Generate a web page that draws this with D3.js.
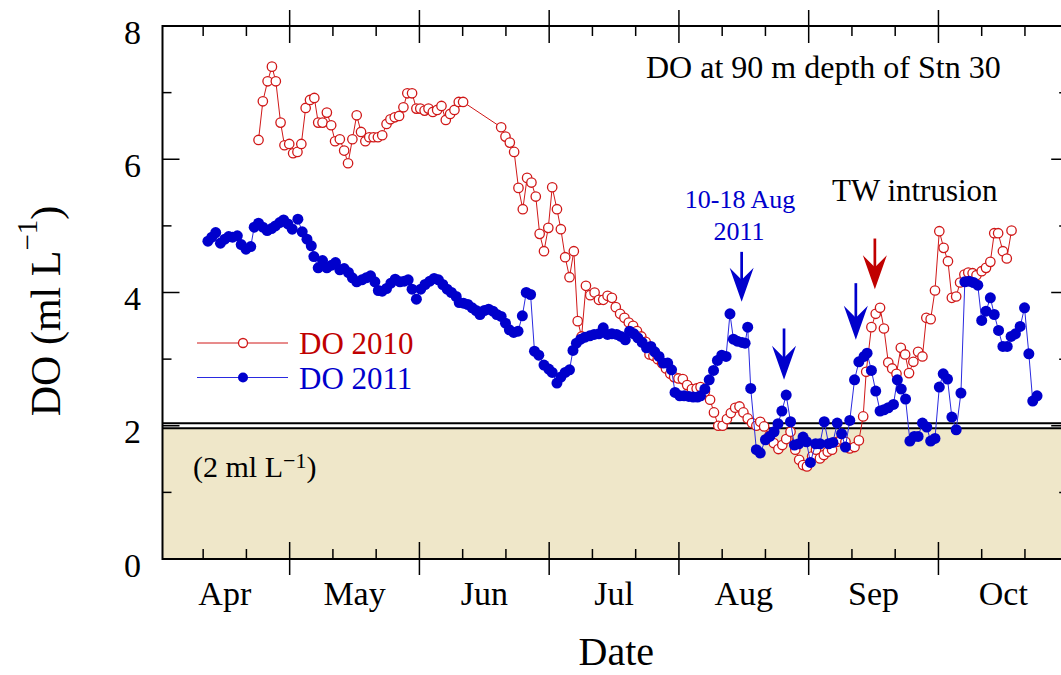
<!DOCTYPE html>
<html><head><meta charset="utf-8">
<script src="https://cdn.jsdelivr.net/npm/d3@7"></script>
<style>
body{margin:0;background:#fff}
svg{display:block}
text{font-family:"Liberation Serif","Times New Roman",serif}
</style>
</head><body>
<svg id="chart" width="1061" height="675"></svg>
<script>
// ---- data (day of year, DO in ml/L) ----
const days2010 = [113.8,114.8,115.9,116.9,117.8,118.9,119.8,120.9,121.8,122.8,123.7,124.7,125.7,126.7,127.6,128.6,129.6,130.6,131.5,132.6,133.6,134.5,135.5,136.5,137.5,138.5,139.4,140.4,141.4,142.4,143.4,144.3,145.3,146.3,147.3,148.2,149.3,150.3,151.2,152.2,153.1,154.1,155.1,156.1,157.1,158.1,159.1,160.1,161.1,
169.9,170.9,171.9,172.9,173.9,174.9,175.9,176.9,177.9,178.8,179.8,180.8,181.7,182.8,183.7,184.7,185.7,186.7,187.6,188.5,189.5,190.5,191.5,192.5,193.5,194.5,195.5,196.4,197.4,198.4,199.4,200.4,201.3,202.3,203.3,204.2,205.1,206.1,207.1,208.0,209.0,209.9,210.9,211.9,212.9,214.0,215.1,216.0,217.0,218.2,219.1,220.1,221.1,222.1,223.0,224.0,225.0,225.9,226.9,227.9,228.9,229.8,230.7,231.9,232.9,234.0,234.9,235.8,236.8,237.9,238.8,239.7,240.6,241.8,242.7,243.6,244.5,245.4,246.4,247.6,248.5,249.5,250.5,251.6,252.6,253.6,254.3,255.5,256.5,257.5,258.4,259.4,260.3,261.3,262.3,263.3,264.2,265.2,266.3,267.3,268.2,269.2,270.2,271.2,272.2,273.2,274.1,275.1,276.0,277.0,277.9,278.9,279.8,281.0,282.0,283.0,283.9,284.8,285.9,286.8,287.9];
const do2010 = [6.29,6.87,7.17,7.39,7.17,6.55,6.21,6.23,6.09,6.11,6.23,6.77,6.89,6.92,6.55,6.55,6.70,6.51,6.27,6.30,6.13,5.94,6.30,6.66,6.41,6.27,6.33,6.33,6.33,6.36,6.53,6.60,6.63,6.65,6.78,6.99,6.99,6.76,6.76,6.73,6.76,6.71,6.74,6.80,6.59,6.68,6.74,6.86,6.86,
6.48,6.34,6.25,6.11,5.57,5.25,5.72,5.65,5.44,4.88,4.62,4.97,5.58,5.25,4.95,4.53,4.23,4.62,3.57,3.34,4.10,3.96,4.00,3.89,3.89,3.95,3.92,3.78,3.68,3.62,3.55,3.50,3.42,3.34,3.26,3.07,3.05,3.00,2.94,2.86,2.78,2.73,2.71,2.70,2.61,2.55,2.56,2.58,2.51,2.39,2.20,2.00,2.00,2.10,2.19,2.27,2.29,2.20,2.11,2.04,2.00,2.06,1.99,1.85,1.74,1.65,1.71,1.80,1.91,1.64,1.49,1.41,1.39,1.54,1.64,1.51,1.56,1.61,1.64,1.76,1.79,1.76,1.66,1.68,1.78,2.14,2.81,3.48,3.68,3.77,3.46,2.95,2.86,2.78,3.17,3.07,2.79,2.96,3.11,3.04,3.62,3.60,4.03,4.92,4.67,4.47,3.92,3.94,4.15,4.27,4.30,4.29,4.26,4.32,4.37,4.46,4.89,4.89,4.62,4.51,4.93];

const days2011 = [102.1,103.0,103.9,105.0,106.0,106.9,107.8,108.9,109.8,110.9,112.0,112.8,113.8,114.8,115.8,116.8,117.7,118.7,119.6,120.6,121.6,122.9,123.9,125.0,126.0,126.6,127.6,128.6,129.6,130.7,131.6,132.6,133.6,134.6,135.5,136.5,137.7,138.7,139.7,140.7,141.5,142.4,143.4,144.4,145.4,146.5,147.5,148.4,149.3,150.3,151.3,152.3,153.4,154.4,155.4,156.4,157.4,158.4,159.5,160.2,161.2,162.2,163.2,164.1,165.0,166.0,167.0,168.0,168.9,169.9,170.9,171.8,172.8,173.8,174.8,175.7,176.7,177.6,178.6,179.8,180.9,181.7,182.8,183.7,184.7,185.7,186.5,187.3,188.3,189.3,190.4,191.4,192.5,193.5,194.5,195.5,196.6,197.6,198.6,199.6,200.6,201.5,202.5,203.5,204.5,205.4,206.4,207.4,208.4,209.3,210.1,211.2,212.2,213.3,214.3,215.3,216.0,217.0,218.0,219.0,219.9,220.9,221.9,222.8,223.6,224.5,225.6,226.3,226.9,227.6,228.9,229.8,231.0,232.0,233.0,233.9,234.8,235.8,236.8,237.7,238.7,239.7,240.5,241.4,242.6,243.6,244.6,245.6,246.6,247.6,248.6,249.5,250.5,251.6,252.6,253.8,254.5,255.5,256.5,257.5,258.4,259.4,260.6,261.5,262.4,263.4,264.4,265.4,266.3,267.3,268.3,269.2,270.2,271.2,272.1,273.1,274.1,275.1,276.2,277.1,278.1,279.1,280.1,281.0,282.0,283.0,283.9,284.9,285.9,286.9,287.8,288.8,289.9,290.9,291.9,292.8,293.8];
const do2011 = [4.77,4.83,4.90,4.74,4.80,4.84,4.83,4.85,4.72,4.65,4.69,4.98,5.04,4.98,4.93,4.96,5.00,5.05,5.09,5.03,4.95,5.10,4.91,4.80,4.70,4.54,4.37,4.48,4.37,4.41,4.45,4.34,4.36,4.30,4.22,4.16,4.19,4.22,4.25,4.16,4.03,4.02,4.06,4.14,4.20,4.16,4.17,4.19,4.05,3.90,4.05,4.12,4.17,4.21,4.19,4.12,4.05,4.00,3.94,3.85,3.84,3.82,3.77,3.73,3.67,3.73,3.75,3.72,3.67,3.64,3.54,3.44,3.40,3.42,3.65,4.00,3.97,3.12,3.06,2.91,2.85,2.80,2.64,2.73,2.80,2.84,3.13,3.24,3.30,3.33,3.35,3.37,3.38,3.47,3.37,3.38,3.37,3.34,3.29,3.42,3.38,3.32,3.25,3.17,3.19,3.11,3.04,2.94,2.94,2.84,2.50,2.45,2.45,2.44,2.43,2.43,2.45,2.55,2.69,2.83,2.98,3.06,3.04,3.68,3.30,3.27,3.25,3.24,3.48,2.56,1.64,1.59,1.79,1.84,1.91,2.03,2.22,2.46,2.06,1.71,1.73,1.83,1.76,1.45,1.73,1.73,2.06,1.73,1.75,2.04,1.88,1.68,2.08,2.69,2.96,3.04,3.09,2.83,2.52,2.22,2.24,2.27,2.32,2.69,2.55,2.40,1.77,1.84,1.84,2.04,1.98,1.77,1.81,2.58,2.78,2.70,2.13,1.94,2.49,4.16,4.17,4.15,4.11,3.58,3.72,3.92,3.67,3.43,3.19,3.19,3.34,3.38,3.49,3.77,3.08,2.37,2.45];

const monthLabels = ["Apr","May","Jun","Jul","Aug","Sep","Oct"];
const monthLabelDays = [106,136,166,196,226,256,286];
const majorTickDays = [121,151,181,211,241,271];
const minorTickDays = [101,111,131,141,161,171,191,201,221,231,251,261,281,291];
const yMajorTicks = [0,2,4,6,8];
const yMinorTicks = [1,3,5,7];
const threshold = 2;
// annotation arrows: day, top value, tip value
const blueArrowDays = [225.5,235.3,251.9];
const blueArrowTop  = [4.61,3.46,4.14];
const blueArrowTip  = [3.86,2.69,3.29];
const redArrowDay = 256.3, redArrowTop = 4.81, redArrowTip = 4.05;

const RED = "#d01818", BLUE = "#0000cc", BLUE_LINE = "#2a2ae0";
const svg = d3.select("#chart");
const x = d3.scaleLinear().domain([91.6, 301]).range([162.5, 1068.2]);
const y = d3.scaleLinear().domain([0, 8]).range([559, 26]);
const X0 = x(91.6), X1 = x(301), Y0 = y(0), Y1 = y(8);

// shaded hypoxia zone
svg.append("rect").attr("x", X0).attr("y", y(threshold) + 2.5)
  .attr("width", X1 - X0).attr("height", Y0 - y(threshold) - 2.5).attr("fill", "#efe7c9");
[-2.5, 2.5].forEach(o => svg.append("line").attr("x1", X0).attr("x2", X1)
  .attr("y1", y(threshold) + o).attr("y2", y(threshold) + o).attr("stroke", "#000").attr("stroke-width", 2));

// frame
svg.append("rect").attr("x", X0).attr("y", Y1).attr("width", X1 - X0).attr("height", Y0 - Y1)
  .attr("fill", "none").attr("stroke", "#000").attr("stroke-width", 2);

const tk = svg.append("g").attr("stroke", "#000").attr("stroke-width", 1.5);
majorTickDays.forEach(d => {
  tk.append("line").attr("x1", x(d)).attr("x2", x(d)).attr("y1", Y1 - 16).attr("y2", Y1 + 17);
  tk.append("line").attr("x1", x(d)).attr("x2", x(d)).attr("y1", Y0 - 17).attr("y2", Y0 + 16);
});
minorTickDays.forEach(d => {
  tk.append("line").attr("x1", x(d)).attr("x2", x(d)).attr("y1", Y1).attr("y2", Y1 + 10);
  tk.append("line").attr("x1", x(d)).attr("x2", x(d)).attr("y1", Y0 - 10).attr("y2", Y0);
});
yMajorTicks.forEach(v => {
  tk.append("line").attr("x1", X0).attr("x2", X0 + 17).attr("y1", y(v)).attr("y2", y(v));
  tk.append("line").attr("x1", X1 - 17).attr("x2", X1).attr("y1", y(v)).attr("y2", y(v));
});
yMinorTicks.forEach(v => {
  tk.append("line").attr("x1", X0).attr("x2", X0 + 9).attr("y1", y(v)).attr("y2", y(v));
  tk.append("line").attr("x1", X1 - 9).attr("x2", X1).attr("y1", y(v)).attr("y2", y(v));
});

// tick labels
yMajorTicks.forEach(v => svg.append("text").attr("x", 141).attr("y", y(v) + 17.5)
  .attr("text-anchor", "end").attr("font-size", 34).text(v));
monthLabels.forEach((m, i) => svg.append("text").attr("x", x(monthLabelDays[i])).attr("y", 605)
  .attr("text-anchor", "middle").attr("font-size", 34).text(m));
svg.append("text").attr("x", (X0 + X1) / 2 + 1).attr("y", 665).attr("text-anchor", "middle")
  .attr("font-size", 40).text("Date");

// y title
const yt = svg.append("text").attr("transform", "translate(60,311) rotate(-90)")
  .attr("text-anchor", "middle").attr("font-size", 42);
yt.append("tspan").text("DO (ml L");
yt.append("tspan").attr("font-size", 29).attr("dy", -23).text("\u22121");
yt.append("tspan").attr("dy", 23).text(")");

// 2 ml label
const tl = svg.append("text").attr("x", 193).attr("y", 477).attr("font-size", 30);
tl.append("tspan").text("(2 ml L");
tl.append("tspan").attr("font-size", 22).attr("dy", -9).text("\u22121");
tl.append("tspan").attr("dy", 9).text(")");

// series
const s2010 = days2010.map((d, i) => [d, do2010[i]]);
const s2011 = days2011.map((d, i) => [d, do2011[i]]);
const line = d3.line().x(p => x(p[0])).y(p => y(p[1]));
svg.append("path").datum(s2010).attr("d", line).attr("fill", "none").attr("stroke", RED).attr("stroke-width", 1);
svg.append("g").selectAll("circle").data(s2010).join("circle")
  .attr("cx", p => x(p[0])).attr("cy", p => y(p[1])).attr("r", 4.7)
  .attr("fill", "#fff").attr("stroke", RED).attr("stroke-width", 1.3);
svg.append("path").datum(s2011).attr("d", line).attr("fill", "none").attr("stroke", BLUE_LINE).attr("stroke-width", 1);
svg.append("g").selectAll("circle").data(s2011).join("circle")
  .attr("cx", p => x(p[0])).attr("cy", p => y(p[1])).attr("r", 5.5).attr("fill", BLUE);

// legend
svg.append("line").attr("x1", 197).attr("x2", 288).attr("y1", 343).attr("y2", 343).attr("stroke", RED).attr("stroke-width", 1);
svg.append("circle").attr("cx", 243).attr("cy", 343).attr("r", 4.5).attr("fill", "#fff").attr("stroke", RED).attr("stroke-width", 1.3);
svg.append("text").attr("x", 299).attr("y", 353.5).attr("font-size", 31).attr("fill", "#c00000").text("DO 2010");
svg.append("line").attr("x1", 197).attr("x2", 288).attr("y1", 377.5).attr("y2", 377.5).attr("stroke", BLUE_LINE).attr("stroke-width", 1);
svg.append("circle").attr("cx", 243).attr("cy", 377.5).attr("r", 5).attr("fill", BLUE);
svg.append("text").attr("x", 299).attr("y", 388.5).attr("font-size", 31).attr("fill", BLUE).text("DO 2011");

// annotations
svg.append("text").attr("x", 646).attr("y", 78).attr("font-size", 32).text("DO at 90 m depth of Stn 30");
svg.append("text").attr("x", 832).attr("y", 201).attr("font-size", 31).text("TW intrusion");
svg.append("text").attr("x", 740).attr("y", 208).attr("text-anchor", "middle").attr("font-size", 26).attr("fill", BLUE).text("10-18 Aug");
svg.append("text").attr("x", 739).attr("y", 240).attr("text-anchor", "middle").attr("font-size", 26).attr("fill", BLUE).text("2011");

function arrow(d, vTop, vTip, color) {
  const ax = x(d), yTop = y(vTop), yTip = y(vTip);
  svg.append("line").attr("x1", ax).attr("x2", ax).attr("y1", yTop).attr("y2", yTip - 20)
    .attr("stroke", color).attr("stroke-width", 2.7);
  svg.append("path").attr("d", `M${ax},${yTip} L${ax - 12},${yTip - 34} L${ax},${yTip - 22} L${ax + 12},${yTip - 34} Z`)
    .attr("fill", color);
}
blueArrowDays.forEach((d, i) => arrow(d, blueArrowTop[i], blueArrowTip[i], BLUE));
arrow(redArrowDay, redArrowTop, redArrowTip, "#c00000");
</script>
</body></html>
